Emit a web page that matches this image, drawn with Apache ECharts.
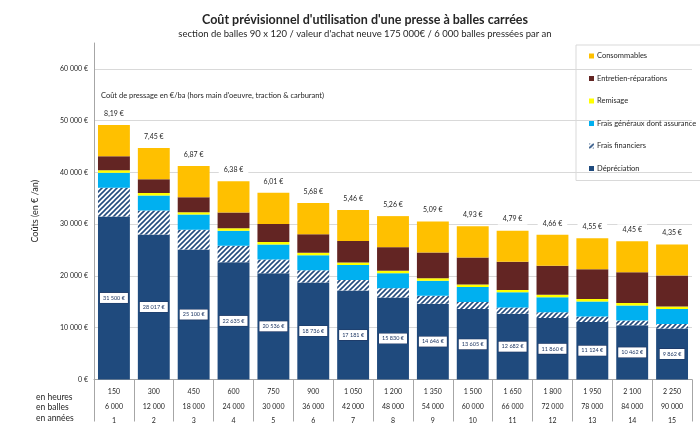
<!DOCTYPE html>
<html>
<head>
<meta charset="utf-8">
<script src="https://cdn.jsdelivr.net/npm/echarts@6/dist/echarts.min.js"></script>
<style>
    html, body { margin: 0; padding: 0; background: #fff; }
    #chart { width: 700px; height: 428px; }
</style>
</head>
<body>
<div id="chart"></div>
<script>
var FONT = 'Lato, "Noto Sans", sans-serif';

// Axis rows (bottom table)
var heures = ['150', '300', '450', '600', '750', '900', '1 050', '1 200', '1 350', '1 500', '1 650', '1 800', '1 950', '2 100', '2 250'];
var balles = ['6 000', '12 000', '18 000', '24 000', '30 000', '36 000', '42 000', '48 000', '54 000', '60 000', '66 000', '72 000', '78 000', '84 000', '90 000'];
var annees = ['1', '2', '3', '4', '5', '6', '7', '8', '9', '10', '11', '12', '13', '14', '15'];

// Cost per bale (label above each bar)
var coutBalle = ['8,19 €', '7,45 €', '6,87 €', '6,38 €', '6,01 €', '5,68 €', '5,46 €', '5,26 €', '5,09 €', '4,93 €', '4,79 €', '4,66 €', '4,55 €', '4,45 €', '4,35 €'];

// Series values (€ / an)
var depreciation = [31500, 28017, 25100, 22635, 20536, 18736, 17181, 15830, 14646, 13605, 12682, 11860, 11124, 10462, 9862];
var fraisFinanciers = [5550, 4630, 3850, 3190, 2660, 2350, 2050, 1800, 1520, 1350, 1250, 1150, 1050, 950, 870];
var fraisGeneraux = [2900, 2900, 2900, 2900, 2900, 2900, 2900, 2900, 2900, 2900, 2900, 2900, 2900, 2900, 2900];
var remisage = [480, 480, 480, 480, 480, 480, 480, 480, 480, 480, 480, 480, 480, 480, 480];
var entretien = [2710, 2673, 2890, 3075, 3484, 3614, 4149, 4550, 4994, 5245, 5428, 5570, 5746, 5908, 5988];
var consommables = [6000, 6000, 6000, 6000, 6000, 6000, 6000, 6000, 6000, 6000, 6000, 6000, 6000, 6000, 6000];

var categories = heures.map(function (h, i) {
    return h + '\n' + balles[i] + '\n' + annees[i];
});

function fmt(n) {
    return String(n).replace(/\B(?=(\d{3})+(?!\d))/g, ' ');
}

function hatch() {
    var c = document.createElement('canvas');
    c.width = 5;
    c.height = 5;
    var ctx = c.getContext('2d');
    ctx.fillStyle = '#ffffff';
    ctx.fillRect(0, 0, 5, 5);
    ctx.strokeStyle = '#244c7e';
    ctx.lineWidth = 1.6;
    ctx.beginPath();
    ctx.moveTo(0, 5); ctx.lineTo(5, 0);
    ctx.moveTo(-1, 1); ctx.lineTo(1, -1);
    ctx.moveTo(4, 6); ctx.lineTo(6, 4);
    ctx.stroke();
    return c;
}

var myChart = echarts.init(document.getElementById('chart'));

var barBase = {
    type: 'bar',
    stack: 'total',
    barCategoryGap: '20%',
    emphasis: { disabled: true }
};

var option = {
    animation: false,
    textStyle: { fontFamily: FONT },
    title: {
        text: "Coût prévisionnel d'utilisation d'une presse à balles carrées",
        subtext: "section de balles 90 x 120 / valeur d'achat neuve 175 000€ / 6 000 balles pressées par an",
        left: 360,
        textAlign: 'center',
        top: 8,
        itemGap: 3,
        textStyle: { fontFamily: FONT, fontSize: 12.5, fontWeight: 'bold', color: '#262626' },
        subtextStyle: { fontFamily: FONT, fontSize: 9.5, color: '#262626' }
    },
    legend: {
        orient: 'vertical',
        left: 576,
        top: 45,
        padding: [7, 12, 8, 13],
        itemGap: 14.5,
        itemWidth: 5,
        itemHeight: 5,
        borderColor: '#d9d9d9',
        borderWidth: 1,
        icon: 'rect',
        textStyle: { fontFamily: FONT, fontSize: 7.5, color: '#262626', padding: [0, 0, 0, -2] },
        data: ['Consommables', 'Entretien-réparations', 'Remisage', 'Frais généraux dont assurance', 'Frais financiers', 'Dépréciation']
    },
    grid: { left: 94, right: 8, top: 43, bottom: 46 },
    xAxis: {
        type: 'category',
        data: categories,
        axisLine: { lineStyle: { color: '#a6a6a6' } },
        axisTick: { show: true, length: 42, lineStyle: { color: '#a6a6a6' } },
        axisLabel: {
            interval: 0,
            margin: 5,
            fontSize: 7,
            lineHeight: 14.5,
            color: '#262626'
        }
    },
    yAxis: {
        type: 'value',
        min: 0,
        max: 65000,
        interval: 10000,
        name: 'Coûts (en € /an)',
        nameLocation: 'middle',
        nameGap: 54,
        nameTextStyle: { fontFamily: FONT, fontSize: 9, color: '#262626' },
        axisLine: { show: true, lineStyle: { color: '#a6a6a6' } },
        axisTick: { show: false },
        axisLabel: {
            showMaxLabel: false,
            fontSize: 7,
            margin: 6,
            color: '#262626',
            formatter: function (v) { return fmt(v) + ' €'; }
        },
        splitLine: { showMaxLine: false, lineStyle: { color: '#d9d9d9' } }
    },
    graphic: [
        {
            type: 'text',
            left: 101,
            top: 92,
            style: {
                text: "Coût de pressage en €/ba (hors main d'oeuvre, traction & carburant)",
                font: '7.5px ' + FONT,
                fill: '#262626'
            }
        },
        { type: 'text', left: 36, top: 393, style: { text: 'en heures', font: '8.5px ' + FONT, fill: '#262626' } },
        { type: 'text', left: 36, top: 403, style: { text: 'en balles', font: '8.5px ' + FONT, fill: '#262626' } },
        { type: 'text', left: 36, top: 414, style: { text: 'en années', font: '8.5px ' + FONT, fill: '#262626' } }
    ],
    series: [
        Object.assign({}, barBase, {
            name: 'Dépréciation',
            data: depreciation,
            itemStyle: { color: '#1f4a7d' },
            label: {
                show: true,
                position: 'inside',
                formatter: function (p) { return fmt(p.value) + ' €'; },
                fontSize: 5.5,
                color: '#1f3864',
                backgroundColor: '#ffffff',
                borderColor: '#1f3864',
                borderWidth: 0.6,
                padding: [2, 3]
            }
        }),
        Object.assign({}, barBase, {
            name: 'Frais financiers',
            data: fraisFinanciers,
            itemStyle: { color: { image: hatch(), repeat: 'repeat' } }
        }),
        Object.assign({}, barBase, {
            name: 'Frais généraux dont assurance',
            data: fraisGeneraux,
            itemStyle: { color: '#00b0f0' }
        }),
        Object.assign({}, barBase, {
            name: 'Remisage',
            data: remisage,
            itemStyle: { color: '#ffff00' }
        }),
        Object.assign({}, barBase, {
            name: 'Entretien-réparations',
            data: entretien,
            itemStyle: { color: '#632523' }
        }),
        Object.assign({}, barBase, {
            name: 'Consommables',
            data: consommables,
            itemStyle: { color: '#ffc000' },
            label: {
                show: true,
                position: 'top',
                distance: 6,
                formatter: function (p) { return coutBalle[p.dataIndex]; },
                fontSize: 7,
                color: '#262626',
                backgroundColor: '#ffffff',
                padding: [2, 5]
            }
        })
    ]
};

myChart.setOption(option);
</script>
</body>
</html>
